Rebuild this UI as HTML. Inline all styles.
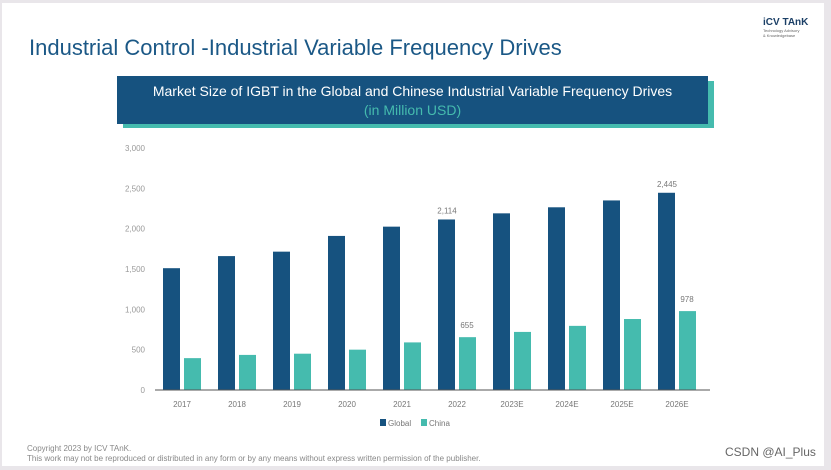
<!DOCTYPE html>
<html><head><meta charset="utf-8"><style>
body{margin:0;width:831px;height:470px;background:#e9e6ea;font-family:"Liberation Sans",sans-serif;overflow:hidden;position:relative}
.card{position:absolute;left:2px;top:3px;width:822px;height:463px;background:#fff}
.t{position:absolute;white-space:nowrap}
</style></head><body>
<div class="card"></div>
<div class="t" style="left:29px;top:35px;font-size:22px;color:#1b5886">Industrial Control -Industrial Variable Frequency Drives</div>
<div style="position:absolute;left:763px;top:17px">
<div class="t" style="font-size:10px;font-weight:bold;color:#1b3f66;position:static">iCV TAnK</div>
<div class="t" style="font-size:4px;color:#666;position:static;line-height:5px">Technology Advisory<br>&amp; Knowledgebase</div></div>
<div style="position:absolute;left:123px;top:81px;width:591px;height:47px;background:#45bbae"></div>
<div style="position:absolute;left:117px;top:76px;width:591px;height:48px;background:#16527f;color:#fff;text-align:center;font-size:14px;line-height:19px;padding-top:6px;box-sizing:border-box">
<span>Market Size of IGBT in the Global and Chinese Industrial Variable Frequency Drives</span><br><span style="color:#45bbae">(in Million USD)</span></div>
<svg id="c" width="831" height="470" style="position:absolute;left:0;top:0"></svg>
<div class="t" style="left:27px;top:444px;font-size:8px;color:#888;line-height:10px">Copyright 2023 by ICV TAnK.<br>This work may not be reproduced or distributed in any form or by any means without express written permission of the publisher.</div>
<div class="t" style="left:725px;top:445px;font-size:12px;color:#666">CSDN @AI_Plus</div>
<script>
const categories=["2017","2018","2019","2020","2021","2022","2023E","2024E","2025E","2026E"];
const globalValues=[1510,1660,1715,1910,2025,2114,2190,2265,2350,2445];
const chinaValues=[395,435,450,500,590,655,720,795,880,978];
const yTicks=[0,500,1000,1500,2000,2500,3000];
const labelsGlobal={5:"2,114",9:"2,445"};
const labelsChina={5:"655",9:"978"};
const svg=document.getElementById('c');const NS='http://www.w3.org/2000/svg';
const y0=390,yTop=148,yMax=3000;
const y=v=>y0-(v/yMax)*(y0-yTop);
const x=i=>182+i*55;
function mk(t,a){const e=document.createElementNS(NS,t);for(const k in a)e.setAttribute(k,a[k]);svg.appendChild(e);return e;}
yTicks.forEach(v=>{const e=mk('text',{x:145,y:y(v)+3,'text-anchor':'end','font-size':8,fill:'#999'});e.textContent=v.toLocaleString('en-US');

});
categories.forEach((c,i)=>{
const g=mk('rect',{x:x(i)-19,y:y(globalValues[i]),width:17,height:y0-y(globalValues[i]),fill:'#16527f'});


const h=mk('rect',{x:x(i)+2,y:y(chinaValues[i]),width:17,height:y0-y(chinaValues[i]),fill:'#45bbae'});


const t=mk('text',{x:x(i),y:407,'text-anchor':'middle','font-size':8,fill:'#777'});t.textContent=c;


if(labelsGlobal[i]){const l=mk('text',{x:x(i)-10,y:y(globalValues[i])-6,'text-anchor':'middle','font-size':8,fill:'#777'});l.textContent=labelsGlobal[i];

}
if(labelsChina[i]){const l=mk('text',{x:x(i)+10,y:y(chinaValues[i])-9,'text-anchor':'middle','font-size':8,fill:'#777'});l.textContent=labelsChina[i];

}
});
const ax=mk('line',{x1:155,x2:710,y1:y0,y2:y0,stroke:'#555','stroke-width':1});


[['Global','#16527f',380],['China','#45bbae',421]].forEach(([n,c,lx])=>{
const r=mk('rect',{x:lx,y:419,width:6,height:7,fill:c});


const t=mk('text',{x:lx+8,y:426,'font-size':8,fill:'#777'});t.textContent=n;

});
</script>
</body></html>
